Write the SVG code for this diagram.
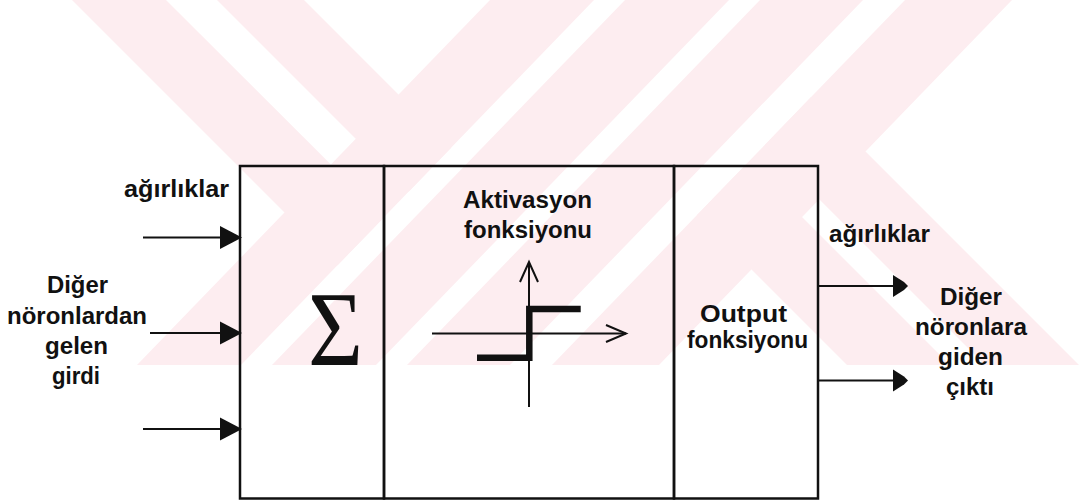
<svg xmlns="http://www.w3.org/2000/svg" width="1083" height="503" viewBox="0 0 1083 503">
  <defs>
    <style>
      .wm { fill: #fdedf0; }
      .cell { fill: none; stroke: #111; stroke-width: 2.5; }
      .lbl { font-family: "Liberation Sans", Arial, sans-serif; font-size: 24px; font-weight: bold; fill: #111; }
      .wire { stroke: #111; stroke-width: 2; fill: none; }
      .head { fill: #111; stroke: none; }
      .axis { stroke: #111; stroke-width: 2; fill: none; }
      .step { stroke: #111; stroke-width: 6.5; fill: none; stroke-linejoin: miter; }
    </style>
    <clipPath id="wm-clip">
      <rect x="0" y="0" width="1083" height="365"/>
    </clipPath>
  </defs>

  <rect x="0" y="0" width="1083" height="503" fill="#fff"/>

  <!-- background stripe mark -->
  <g id="watermark" clip-path="url(#wm-clip)">
    <!-- rising stripes -->
    <polygon class="wm" points="490,0 594,0 241,365 137,365"/>
    <polygon class="wm" points="625,0 729,0 376,365 272,365"/>
    <polygon class="wm" points="760,0 863,0 510,365 407,365"/>
    <polygon class="wm" points="905,0 1012,0 659,365 552,365"/>
    <!-- upper-left falling stripes -->
    <polygon class="wm" points="72,0 166,0 384,217.6 337.4,265.4"/>
    <polygon class="wm" points="217,0 304,0 451.4,147.4 408.7,191.7"/>
    <!-- lower-right falling stripes -->
    <polygon class="wm" points="747.7,162.7 950,365 847,365 697,215"/>
    <polygon class="wm" points="811.1,97.1 1083,369 985,365 764.9,144.9"/>
  </g>

  <!-- summation cell -->
  <g id="sum-cell">
    <rect class="cell" x="240" y="166" width="144" height="332.5"/>
    <text x="335.5" y="365" text-anchor="middle" font-family="'Liberation Serif', 'Times New Roman', serif" font-size="106" textLength="55" lengthAdjust="spacingAndGlyphs" fill="#111">Σ</text>
  </g>

  <!-- activation cell -->
  <g id="activation-cell">
    <rect class="cell" x="384" y="166" width="290" height="332.5"/>
    <text class="lbl" x="527.5" y="208.3" text-anchor="middle" textLength="129" lengthAdjust="spacingAndGlyphs">Aktivasyon</text>
    <text class="lbl" x="528" y="238.3" text-anchor="middle" textLength="128" lengthAdjust="spacingAndGlyphs">fonksiyonu</text>
    <line class="axis" x1="529" y1="262" x2="529" y2="407"/>
    <polyline class="axis" points="520,282 529,262 538,282"/>
    <line class="axis" x1="432" y1="333.5" x2="626" y2="333.5"/>
    <polyline class="axis" points="606,325 626,333.5 606,342"/>
    <path class="step" d="M477,357.7 H529.3 V309 H580.7"/>
  </g>

  <!-- output cell -->
  <g id="output-cell">
    <rect class="cell" x="674" y="166" width="144" height="332.5"/>
    <text class="lbl" x="743.5" y="321.7" text-anchor="middle" textLength="87" lengthAdjust="spacingAndGlyphs">Output</text>
    <text class="lbl" x="747.5" y="348.3" text-anchor="middle" textLength="121" lengthAdjust="spacingAndGlyphs">fonksiyonu</text>
  </g>

  <!-- input side labels -->
  <g id="input-labels">
    <text class="lbl" x="176.5" y="197" text-anchor="middle" textLength="105" lengthAdjust="spacingAndGlyphs">ağırlıklar</text>
    <text class="lbl" x="77.5" y="293.3" text-anchor="middle" textLength="61" lengthAdjust="spacingAndGlyphs">Diğer</text>
    <text class="lbl" x="77" y="323.5" text-anchor="middle" textLength="140" lengthAdjust="spacingAndGlyphs">nöronlardan</text>
    <text class="lbl" x="76.5" y="354" text-anchor="middle" textLength="63" lengthAdjust="spacingAndGlyphs">gelen</text>
    <text class="lbl" x="76" y="384" text-anchor="middle" textLength="48" lengthAdjust="spacingAndGlyphs">girdi</text>
  </g>

  <!-- output side labels -->
  <g id="output-labels">
    <text class="lbl" x="879.5" y="241.7" text-anchor="middle" textLength="101" lengthAdjust="spacingAndGlyphs">ağırlıklar</text>
    <text class="lbl" x="971" y="305" text-anchor="middle" textLength="62" lengthAdjust="spacingAndGlyphs">Diğer</text>
    <text class="lbl" x="971" y="335" text-anchor="middle" textLength="112" lengthAdjust="spacingAndGlyphs">nöronlara</text>
    <text class="lbl" x="970.5" y="365" text-anchor="middle" textLength="65" lengthAdjust="spacingAndGlyphs">giden</text>
    <text class="lbl" x="970" y="395" text-anchor="middle" textLength="48" lengthAdjust="spacingAndGlyphs">çıktı</text>
  </g>

  <!-- weighted connections -->
  <g id="connectors">
    <line class="wire" x1="143" y1="237.5" x2="222" y2="237.5"/>
    <polygon class="head" points="220,226 242,237.5 220,249"/>
    <line class="wire" x1="150" y1="333" x2="222" y2="333"/>
    <polygon class="head" points="220,321.5 242,333 220,344.5"/>
    <line class="wire" x1="143" y1="429" x2="222" y2="429"/>
    <polygon class="head" points="220,417.5 242,429 220,440.5"/>
    <line class="wire" x1="818" y1="286" x2="895" y2="286"/>
    <path class="head" d="M893,275 L904,282 L908,286 L904,290 L893,297 Z"/>
    <line class="wire" x1="818" y1="380.5" x2="895" y2="380.5"/>
    <path class="head" d="M893,369.5 L904,376.5 L908,380.5 L904,384.5 L893,391.5 Z"/>
  </g>
</svg>
